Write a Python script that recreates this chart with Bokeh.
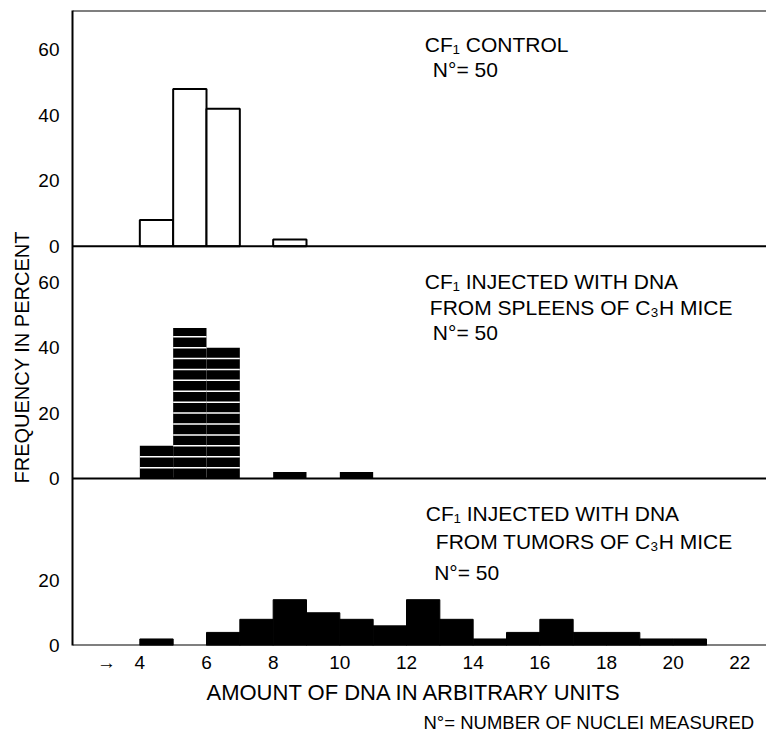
from bokeh.plotting import figure
from bokeh.models import Range1d, Span, FixedTicker, Label, Title, ColumnDataSource
from bokeh.transform import dodge
from bokeh.embed import file_html
from bokeh.resources import INLINE

# ---------------- data ----------------
bin_left = list(range(4, 22))          # bins 4-5, 5-6, ... 21-22
control = [8, 48, 42, 0, 2, 0, 0, 0, 0, 0, 0, 0, 0, 0, 0, 0, 0, 0]
spleen = [10, 46, 40, 0, 2, 0, 2, 0, 0, 0, 0, 0, 0, 0, 0, 0, 0, 0]
tumor = [2, 0, 4, 8, 14, 10, 8, 6, 14, 8, 2, 4, 8, 4, 4, 2, 2, 0]
x_ticks = [3, 4, 6, 8, 10, 12, 14, 16, 18, 20, 22]
x_tick_labels = {3: "→"}
y_ticks_top = [0, 20, 40, 60]
y_ticks_mid = [0, 20, 40, 60]
y_ticks_bot = [0, 20]
stripe_step = 10 / 3                    # one stripe of the middle panel

# panel layout (vertical offsets of each panel's zero, in % units)
OFF_TOP, OFF_MID, OFF_BOT, Y_END = 122, 51, 0, 194

FONT = "Liberation Sans"

p = figure(width=766, height=738, x_range=Range1d(1.98, 22.8),
           y_range=Range1d(0, Y_END), output_backend="svg",
           toolbar_location=None, min_border_left=72, min_border_right=0,
           min_border_top=10, min_border_bottom=93)
p.outline_line_color = None
p.grid.visible = False

# y axis with ticks of all three panels
ya = p.yaxis[0]
ticks, overrides = [], {}
for off, tl in ((OFF_BOT, y_ticks_bot), (OFF_MID, y_ticks_mid), (OFF_TOP, y_ticks_top)):
    for t in tl:
        ticks.append(off + t)
        overrides[off + t] = str(t)
ya.ticker = FixedTicker(ticks=ticks)
ya.major_label_overrides = overrides
ya.major_tick_line_color = None
ya.minor_tick_line_color = None
ya.axis_line_width = 2
ya.major_label_text_font = FONT
ya.major_label_text_font_size = "19px"
ya.major_label_text_color = "black"
ya.major_label_standoff = 7

# x axis
xa = p.xaxis[0]
xa.ticker = FixedTicker(ticks=x_ticks)
xa.major_label_overrides = x_tick_labels
xa.major_tick_line_color = None
xa.minor_tick_line_color = None
xa.axis_line_color = None
xa.major_label_text_font = FONT
xa.major_label_text_font_size = "19px"
xa.major_label_text_color = "black"
xa.major_label_standoff = 0

# baselines and top border
for loc in (OFF_BOT, OFF_MID, OFF_TOP, Y_END):
    p.add_layout(Span(location=loc, dimension="width",
                      line_color="black", line_width=2))


def bars(vals):
    l = [b for b, v in zip(bin_left, vals) if v > 0]
    t = [v for v in vals if v > 0]
    return ColumnDataSource(dict(left=l, right=[x + 1 for x in l],
                                 top=t, bottom=[0] * len(t)))


def label(x, y, text, size="21px"):
    p.add_layout(Label(x=x, y=y, text=text, text_font=FONT,
                       text_font_size=size, text_baseline="alphabetic",
                       text_color="black"))


# ---------------- top panel: control ----------------
p.quad(left="left", right="right", top=dodge("top", OFF_TOP),
       bottom=dodge("bottom", OFF_TOP), source=bars(control),
       fill_color="white", line_color="black", line_width=2)
label(12.55, 183.6, "CF₁ CONTROL")
label(12.79, 175.9, "N°= 50")

# ---------------- middle panel: spleen DNA ----------------
p.quad(left="left", right="right", top=dodge("top", OFF_MID),
       bottom=dodge("bottom", OFF_MID), source=bars(spleen),
       fill_color="black", line_color=None)
sx0, sx1, sy = [], [], []
for b, v in zip(bin_left, spleen):
    k = 1
    while k * stripe_step < v - 0.01:
        sx0.append(b)
        sx1.append(b + 1)
        sy.append(k * stripe_step)
        k += 1
stripes = ColumnDataSource(dict(x0=sx0, x1=sx1, y=sy))
p.segment(x0="x0", x1="x1", y0=dodge("y", OFF_MID), y1=dodge("y", OFF_MID),
          source=stripes, line_color="white", line_width=1.5)
label(12.55, 111.2, "CF₁ INJECTED WITH DNA")
label(12.70, 103.2, "FROM SPLEENS OF C₃H MICE")
label(12.79, 95.6, "N°= 50")

# ---------------- bottom panel: tumor DNA ----------------
p.quad(left="left", right="right", top=dodge("top", OFF_BOT),
       bottom=dodge("bottom", OFF_BOT), source=bars(tumor),
       fill_color="black", line_color="black", line_width=1)
label(12.58, 40.3, "CF₁ INJECTED WITH DNA")
label(12.88, 31.9, "FROM TUMORS OF C₃H MICE")
label(12.83, 22.3, "N°= 50")

# y axis title (a left-hand title, placed beside the middle panel)
p.add_layout(Title(text="FREQUENCY IN PERCENT", align="left",
                   offset=162, text_font=FONT, text_font_size="20px",
                   text_font_style="normal", text_color="black",
                   standoff=6), "left")

# x title and footnote
p.add_layout(Title(text="AMOUNT OF DNA IN ARBITRARY UNITS",
                   align="left", offset=134, text_font=FONT,
                   text_font_size="22px", text_font_style="normal",
                   text_color="black", standoff=4), "below")
p.add_layout(Title(text="N°= NUMBER OF NUCLEI MEASURED",
                   align="left", offset=351, text_font=FONT,
                   text_font_size="18.5px", text_font_style="normal",
                   text_color="black", standoff=6), "below")

open("out.html", "w").write(file_html(p, INLINE))
